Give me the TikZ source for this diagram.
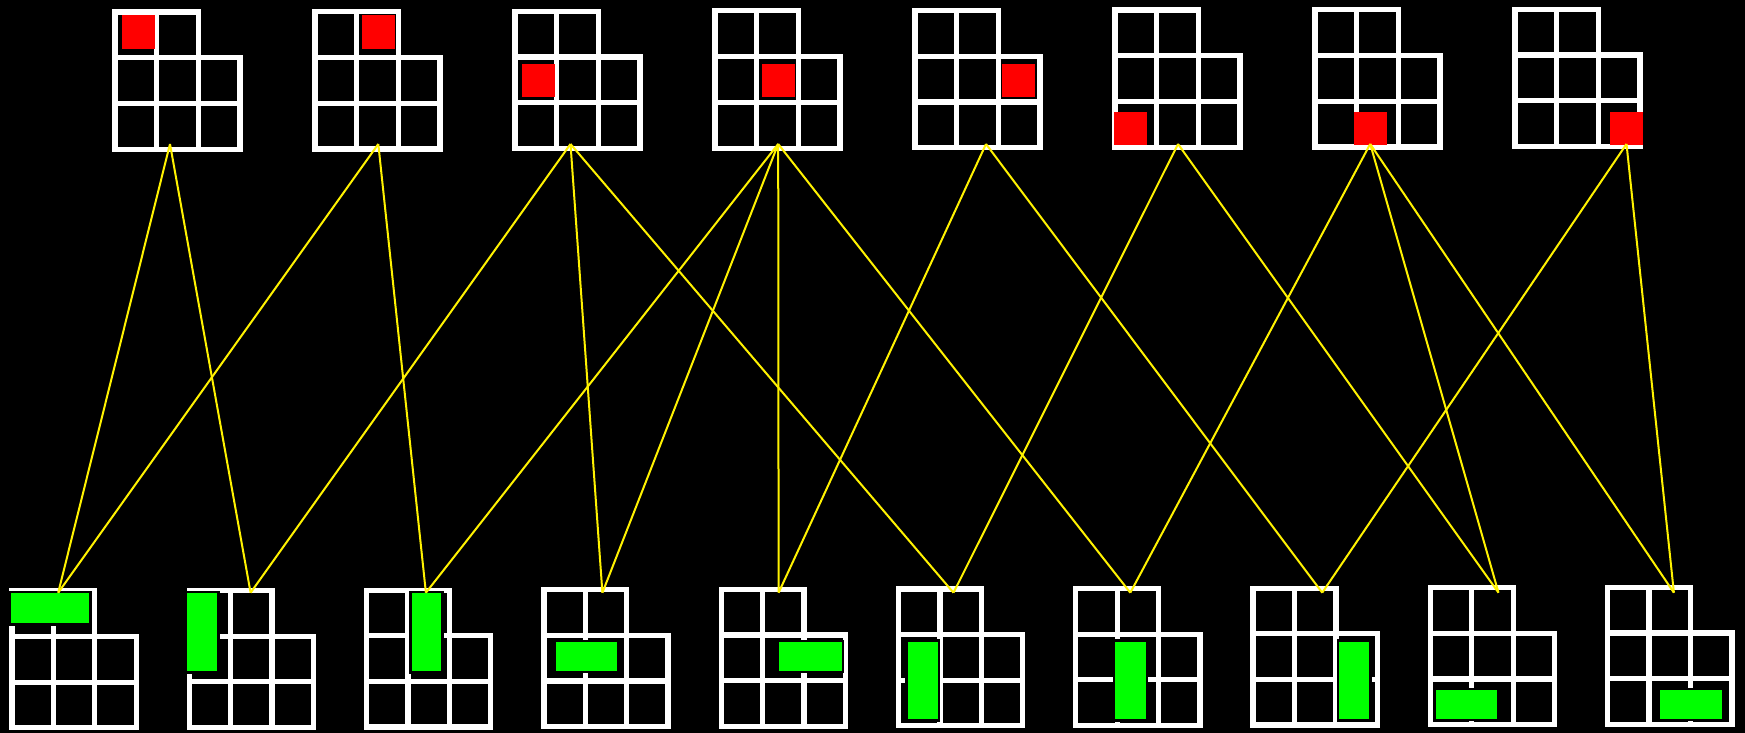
\documentclass[tikz,border=0pt]{standalone}
\begin{document}
\begin{tikzpicture}[x=1pt,y=-1pt,
  gridline/.style={draw=white,line width=5.3pt,line join=miter},
  link/.style={draw=yellow,line width=2pt},
  cellmark/.style={fill=red},
  domino/.style={fill=green},
  dominoedge/.style={fill=black}]
\fill[black] (0,0) rectangle (1745,733);
\useasboundingbox (0,0) rectangle (1745,733);
% top boards
\foreach \k in {0,...,7}{
  \pgfmathsetmacro\X{115+200*\k}
  \pgfmathsetmacro\Y{12-0.4*\k}
  \def\w{41.7}\def\h{45.8}
  \draw[gridline] (\X,\Y) -- (\X+2*\w,\Y) -- (\X+2*\w,\Y+\h) -- (\X+3*\w,\Y+\h) -- (\X+3*\w,\Y+3*\h) -- (\X,\Y+3*\h) -- cycle;
  \draw[gridline] (\X+\w,\Y) -- (\X+\w,\Y+3*\h) (\X+2*\w,\Y+\h) -- (\X+2*\w,\Y+3*\h)
     (\X,\Y+\h) -- (\X+2*\w,\Y+\h) (\X,\Y+2*\h) -- (\X+3*\w,\Y+2*\h);
}
% bottom boards
\foreach \k in {0,...,9}{
  \pgfmathsetmacro\X{12+177.3*\k}
  \pgfmathsetmacro\Y{591-0.4*\k}
  \def\w{41.4}\def\h{45.6}
  \draw[gridline] (\X,\Y) -- (\X+2*\w,\Y) -- (\X+2*\w,\Y+\h) -- (\X+3*\w,\Y+\h) -- (\X+3*\w,\Y+3*\h) -- (\X,\Y+3*\h) -- cycle;
  \draw[gridline] (\X+\w,\Y) -- (\X+\w,\Y+3*\h) (\X+2*\w,\Y+\h) -- (\X+2*\w,\Y+3*\h)
     (\X,\Y+\h) -- (\X+2*\w,\Y+\h) (\X,\Y+2*\h) -- (\X+3*\w,\Y+2*\h);
}
% red cells
\foreach \a/\b/\c/\d in {122/15.3/155/49, 362/15.3/395/49, 521.7/64/555/97, 762/64/795/97,
   1001.7/64/1035/97.3, 1113.6/112/1146.8/145, 1353.6/112/1386.8/145, 1610/112/1643/145}{
  \fill[cellmark] (\a,\b) rectangle (\c,\d);
}
% green dominoes
\foreach \a/\b/\c/\d in {11/593.3/89.3/623.3, 187.3/593.3/217.3/671, 411.7/593.3/441/671,
   556/642/617.3/670.7, 779.3/642/841.7/670.7, 907.7/641.7/937.7/719.3, 1115/641.7/1145.7/719.3,
   1339.3/641.7/1369.3/719.3, 1436/690/1497.3/718.7, 1660/690/1721.7/718.7}{
  \fill[dominoedge] (\a-2.5,\b-2.5) rectangle (\c+2.5,\d+2.5);
  \fill[domino] (\a,\b) rectangle (\c,\d);
}
% connector ends
\coordinate (t1) at (170,144);
\coordinate (t2) at (378.3,144);
\coordinate (t3) at (570.5,144);
\coordinate (t4) at (778.2,144);
\coordinate (t5) at (986,144);
\coordinate (t6) at (1178,144);
\coordinate (t7) at (1370.2,144);
\coordinate (t8) at (1626.5,144);
\coordinate (b1) at (58.2,592.7);
\coordinate (b2) at (250.6,592.7);
\coordinate (b3) at (425.9,592.7);
\coordinate (b4) at (602.4,592.7);
\coordinate (b5) at (778.6,592.7);
\coordinate (b6) at (953.5,592.7);
\coordinate (b7) at (1130.3,592.7);
\coordinate (b8) at (1322.2,592.7);
\coordinate (b9) at (1498.5,592.7);
\coordinate (b10) at (1673.9,592.7);
\foreach \s/\e in {t1/b1,t1/b2,t2/b1,t2/b3,t3/b2,t3/b4,t3/b6,t4/b3,t4/b4,t4/b5,t4/b7,
   t5/b5,t5/b8,t6/b6,t6/b9,t7/b7,t7/b9,t7/b10,t8/b8,t8/b10}{
  \draw[link] (\s) -- (\e);
}
\end{tikzpicture}
\end{document}
